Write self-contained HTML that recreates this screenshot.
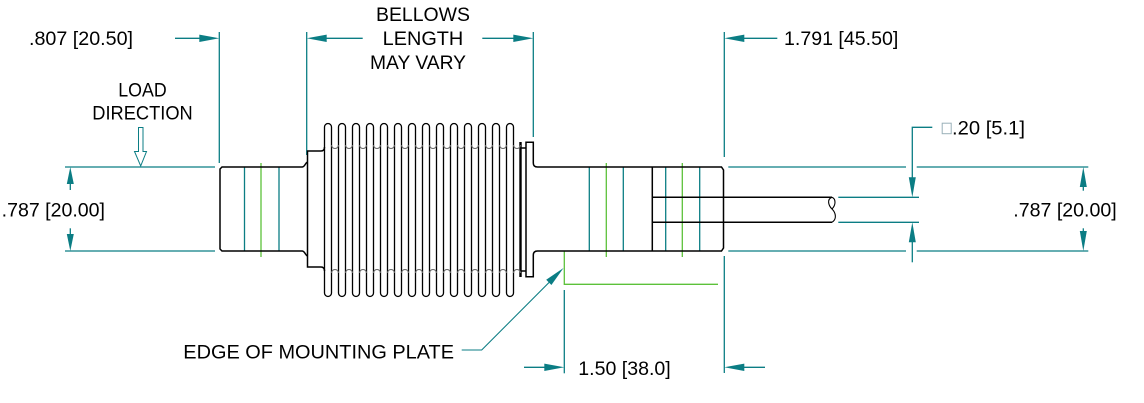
<!DOCTYPE html>
<html>
<head>
<meta charset="utf-8">
<style>
html,body{margin:0;padding:0;background:#fff;}
svg{display:block;}
text{font-family:"Liberation Sans",Arial,sans-serif;font-size:19px;fill:#000;}
</style>
</head>
<body>
<svg width="1144" height="403" viewBox="0 0 1144 403" xmlns="http://www.w3.org/2000/svg">
<rect width="1144" height="403" fill="#fff"/>

<!-- ===== TEAL DIMENSION / EXTENSION LINES ===== -->
<g stroke="#0b7d84" stroke-width="1.3" fill="none">
  <!-- top extension lines -->
  <line x1="219.3" y1="32" x2="219.3" y2="163"/>
  <line x1="306.7" y1="32" x2="306.7" y2="155"/>
  <line x1="533.3" y1="32" x2="533.3" y2="137"/>
  <line x1="724.3" y1="32" x2="724.3" y2="157"/>
  <line x1="724.3" y1="256" x2="724.3" y2="373"/>
  <!-- top dim lines -->
  <line x1="175" y1="38.3" x2="205" y2="38.3"/>
  <line x1="320" y1="38.3" x2="362.7" y2="38.3"/>
  <line x1="482.3" y1="38.3" x2="520" y2="38.3"/>
  <line x1="738" y1="38.3" x2="777.3" y2="38.3"/>
  <!-- left horizontal extension -->
  <line x1="65" y1="167" x2="215" y2="167"/>
  <line x1="65" y1="251" x2="215" y2="251"/>
  <!-- left vertical dim -->
  <line x1="70.3" y1="175" x2="70.3" y2="190"/>
  <line x1="70.3" y1="228.3" x2="70.3" y2="243"/>
  <!-- right extension lines -->
  <line x1="728.3" y1="167" x2="906" y2="167"/>
  <line x1="916.7" y1="167" x2="1088.3" y2="167"/>
  <line x1="728.3" y1="251" x2="906" y2="251"/>
  <line x1="916.7" y1="251" x2="1088.3" y2="251"/>
  <line x1="838.3" y1="197.3" x2="919" y2="197.3"/>
  <line x1="838.3" y1="222.3" x2="919" y2="222.3"/>
  <!-- cable dim -->
  <polyline points="932.3,127.3 912.3,127.3 912.3,185"/>
  <line x1="912.3" y1="235" x2="912.3" y2="262.3"/>
  <!-- right vertical dim -->
  <line x1="1083.3" y1="175" x2="1083.3" y2="190.7"/>
  <line x1="1083.3" y1="228.3" x2="1083.3" y2="243"/>
  <!-- 1.50 dim -->
  <line x1="564.3" y1="290" x2="564.3" y2="373.3"/>
  <line x1="524" y1="367.3" x2="550" y2="367.3"/>
  <line x1="738" y1="367.3" x2="765" y2="367.3"/>
  <!-- leader -->
  <polyline points="461.7,350 481.7,350 552,279.5" stroke-width="1.1"/>
  <!-- load arrow -->
  <path d="M138.5 127.5 H143 V151.5 H146.5 L140.7 166 L134.5 151.5 H138.5 Z" stroke-width="1" fill="#fff"/>
  <!-- square symbol -->
  <rect x="942.2" y="123.2" width="9" height="10.5" stroke="#9ab0b8" stroke-width="1"/>
</g>

<!-- ===== ARROWHEADS ===== -->
<g fill="#0b7d84" stroke="none">
  <polygon points="219.3,38.3 199.3,34.6 199.3,42"/>
  <polygon points="306.7,38.3 326.7,34.6 326.7,42"/>
  <polygon points="533.3,38.3 513.3,34.6 513.3,42"/>
  <polygon points="724.3,38.3 744.3,34.6 744.3,42"/>
  <polygon points="70.3,167 66.8,184 73.8,184"/>
  <polygon points="70.3,251 66.8,234 73.8,234"/>
  <polygon points="1083.3,167 1079.8,187 1086.8,187"/>
  <polygon points="1083.3,251 1079.8,231 1086.8,231"/>
  <polygon points="912.3,197.3 908.8,177.3 915.8,177.3"/>
  <polygon points="912.3,222.3 908.8,242.3 915.8,242.3"/>
  <polygon points="564.3,367.3 544.3,363.6 544.3,371"/>
  <polygon points="724.3,367.3 744.3,363.6 744.3,371"/>
  <polygon points="563.5,268 546.2,279.8 551.4,285"/>
</g>

<!-- ===== GREEN LINES ===== -->
<g stroke="#5cc13a" stroke-width="1.3" fill="none">
  <line x1="261" y1="163" x2="261" y2="257"/>
  <line x1="606.3" y1="163" x2="606.3" y2="257"/>
  <line x1="682.3" y1="163" x2="682.3" y2="257"/>
  <polyline points="564.3,251 564.3,284.3 718,284.3"/>
</g>

<!-- teal lines inside parts -->
<g stroke="#0b7d84" stroke-width="1.3">
  <line x1="244.5" y1="167" x2="244.5" y2="251"/>
  <line x1="279" y1="167" x2="279" y2="251"/>
  <line x1="589.3" y1="167" x2="589.3" y2="251"/>
  <line x1="623.3" y1="167" x2="623.3" y2="251"/>
  <line x1="665.7" y1="167" x2="665.7" y2="251"/>
  <line x1="699.7" y1="167" x2="699.7" y2="251"/>
</g>

<!-- ===== BLACK PART OUTLINES ===== -->
<g stroke="#000" stroke-width="1.5" fill="none">
  <!-- left cylinder -->
  <path d="M302 167 H222 L220 169 V249 L222 251 H302"/>
  <path d="M302 167 C305 167 305 163 307.5 162"/>
  <path d="M302 251 C305 251 305 255 307.5 256"/>
  <!-- left flange -->
  <path d="M321 151 H307.5 V267 H321"/>
  <path d="M321 151 Q324.5 151 324.5 147"/>
  <path d="M321 267 Q324.5 267 324.5 271"/>
  <!-- right flange -->
  <line x1="520.5" y1="142" x2="520.5" y2="277" stroke-width="2.4"/>
  <line x1="520.5" y1="148" x2="526" y2="148"/>
  <line x1="520.5" y1="271" x2="526" y2="271"/>
  <path d="M533.3 163 V142.3 H526 V276.7 H533.3 V255"/>
  <path d="M533.3 163 Q533.3 167 537.5 167 H721.5 L723.5 170 V248 L721.5 251 H537.5 Q533.3 251 533.3 255"/>
  <!-- inner division -->
  <line x1="652.3" y1="167" x2="652.3" y2="251"/>
  <!-- cable -->
  <path d="M652.3 197.3 H832"/>
  <path d="M652.3 222.3 H832"/>
  <path d="M832 197.3 C827 199 828 205 832 209 C836 213 837 219 832 222.3" stroke-width="1.1"/>
  <path d="M832 197.3 C836 199 836 205 832 209" stroke-width="1.1"/>
</g>

<!-- bellows capsules -->
<g stroke="#000" stroke-width="1.3" fill="none">
  <path d="M324.5 293 V127 A3.5 3.5 0 0 1 331.5 127 V293 A3.5 3.5 0 0 1 324.5 293 Z"/>
  <path d="M338.5 293 V127 A3.5 3.5 0 0 1 345.5 127 V293 A3.5 3.5 0 0 1 338.5 293 Z"/>
  <path d="M352.5 293 V127 A3.5 3.5 0 0 1 359.5 127 V293 A3.5 3.5 0 0 1 352.5 293 Z"/>
  <path d="M366.5 293 V127 A3.5 3.5 0 0 1 373.5 127 V293 A3.5 3.5 0 0 1 366.5 293 Z"/>
  <path d="M380.5 293 V127 A3.5 3.5 0 0 1 387.5 127 V293 A3.5 3.5 0 0 1 380.5 293 Z"/>
  <path d="M394.5 293 V127 A3.5 3.5 0 0 1 401.5 127 V293 A3.5 3.5 0 0 1 394.5 293 Z"/>
  <path d="M408.5 293 V127 A3.5 3.5 0 0 1 415.5 127 V293 A3.5 3.5 0 0 1 408.5 293 Z"/>
  <path d="M422.5 293 V127 A3.5 3.5 0 0 1 429.5 127 V293 A3.5 3.5 0 0 1 422.5 293 Z"/>
  <path d="M436.5 293 V127 A3.5 3.5 0 0 1 443.5 127 V293 A3.5 3.5 0 0 1 436.5 293 Z"/>
  <path d="M450.5 293 V127 A3.5 3.5 0 0 1 457.5 127 V293 A3.5 3.5 0 0 1 450.5 293 Z"/>
  <path d="M464.5 293 V127 A3.5 3.5 0 0 1 471.5 127 V293 A3.5 3.5 0 0 1 464.5 293 Z"/>
  <path d="M478.5 293 V127 A3.5 3.5 0 0 1 485.5 127 V293 A3.5 3.5 0 0 1 478.5 293 Z"/>
  <path d="M492.5 293 V127 A3.5 3.5 0 0 1 499.5 127 V293 A3.5 3.5 0 0 1 492.5 293 Z"/>
  <path d="M506.5 293 V127 A3.5 3.5 0 0 1 513.5 127 V293 A3.5 3.5 0 0 1 506.5 293 Z"/>
</g>
<!-- bellows valleys -->
<g stroke="#666" stroke-width="1.1" fill="none">
  <path d="M331.5 145 A3.5 3.5 0 0 0 338.5 145 M345.5 145 A3.5 3.5 0 0 0 352.5 145 M359.5 145 A3.5 3.5 0 0 0 366.5 145 M373.5 145 A3.5 3.5 0 0 0 380.5 145 M387.5 145 A3.5 3.5 0 0 0 394.5 145 M401.5 145 A3.5 3.5 0 0 0 408.5 145 M415.5 145 A3.5 3.5 0 0 0 422.5 145 M429.5 145 A3.5 3.5 0 0 0 436.5 145 M443.5 145 A3.5 3.5 0 0 0 450.5 145 M457.5 145 A3.5 3.5 0 0 0 464.5 145 M471.5 145 A3.5 3.5 0 0 0 478.5 145 M485.5 145 A3.5 3.5 0 0 0 492.5 145 M499.5 145 A3.5 3.5 0 0 0 506.5 145 M513.5 145 A3.5 3.5 0 0 0 520.5 145"/>
  <path d="M331.5 273 A3.5 3.5 0 0 1 338.5 273 M345.5 273 A3.5 3.5 0 0 1 352.5 273 M359.5 273 A3.5 3.5 0 0 1 366.5 273 M373.5 273 A3.5 3.5 0 0 1 380.5 273 M387.5 273 A3.5 3.5 0 0 1 394.5 273 M401.5 273 A3.5 3.5 0 0 1 408.5 273 M415.5 273 A3.5 3.5 0 0 1 422.5 273 M429.5 273 A3.5 3.5 0 0 1 436.5 273 M443.5 273 A3.5 3.5 0 0 1 450.5 273 M457.5 273 A3.5 3.5 0 0 1 464.5 273 M471.5 273 A3.5 3.5 0 0 1 478.5 273 M485.5 273 A3.5 3.5 0 0 1 492.5 273 M499.5 273 A3.5 3.5 0 0 1 506.5 273 M513.5 273 A3.5 3.5 0 0 1 520.5 273"/>
</g>

<!-- ===== TEXT ===== -->
<text x="29" y="45" textLength="104" lengthAdjust="spacingAndGlyphs">.807 [20.50]</text>
<text x="376" y="21" textLength="94" lengthAdjust="spacingAndGlyphs">BELLOWS</text>
<text x="382.7" y="45" textLength="80.6" lengthAdjust="spacingAndGlyphs">LENGTH</text>
<text x="370" y="69" textLength="96" lengthAdjust="spacingAndGlyphs">MAY VARY</text>
<text x="784" y="45" textLength="114.3" lengthAdjust="spacingAndGlyphs">1.791 [45.50]</text>
<text x="118.3" y="96.7" textLength="48.4" lengthAdjust="spacingAndGlyphs">LOAD</text>
<text x="92.3" y="119.3" textLength="100.4" lengthAdjust="spacingAndGlyphs">DIRECTION</text>
<text x="1.7" y="216.7" textLength="103.3" lengthAdjust="spacingAndGlyphs">.787 [20.00]</text>
<text x="952" y="134.3" textLength="73" lengthAdjust="spacingAndGlyphs">.20 [5.1]</text>
<text x="1013.3" y="216.7" textLength="103.4" lengthAdjust="spacingAndGlyphs">.787 [20.00]</text>
<text x="183.3" y="358.3" textLength="270.7" lengthAdjust="spacingAndGlyphs">EDGE OF MOUNTING PLATE</text>
<text x="578.3" y="375" textLength="92.4" lengthAdjust="spacingAndGlyphs">1.50 [38.0]</text>
</svg>
</body>
</html>
